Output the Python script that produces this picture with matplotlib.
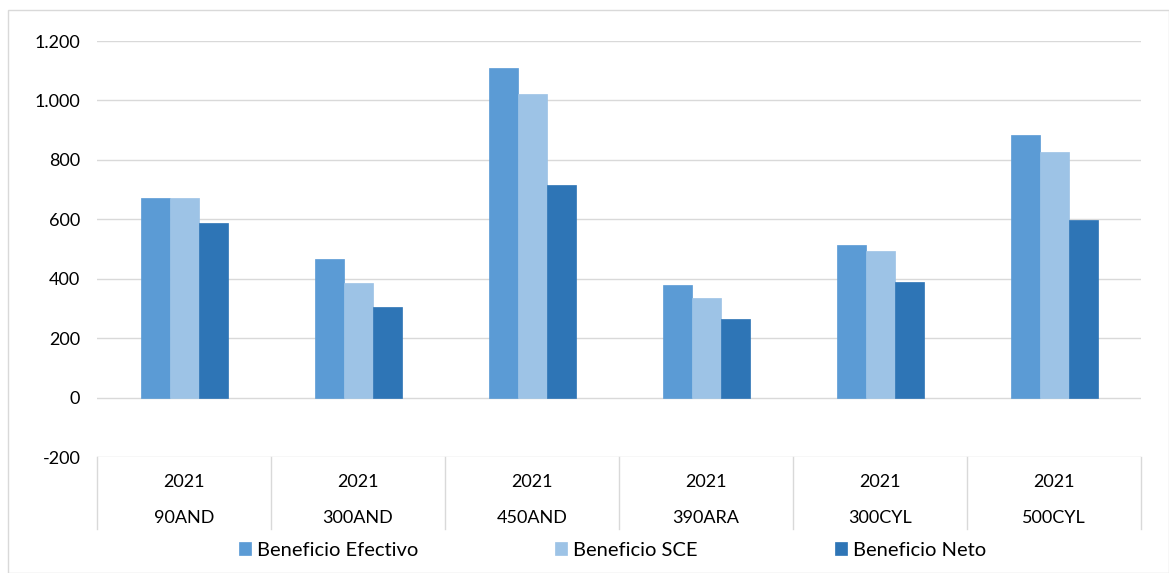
import matplotlib.pyplot as plt
from matplotlib.patches import Rectangle
from matplotlib.ticker import FuncFormatter
import numpy as np

plt.rcParams['font.family'] = ['Lato', 'DejaVu Sans']

categories = ["90AND", "300AND", "450AND", "390ARA", "300CYL", "500CYL"]
years = ["2021", "2021", "2021", "2021", "2021", "2021"]
series_names = ["Beneficio Efectivo", "Beneficio SCE", "Beneficio Neto"]
efectivo = [670, 466, 1110, 380, 512, 885]
sce = [670, 386, 1020, 334, 492, 825]
neto = [588, 304, 717, 264, 390, 597]
colors = ["#5B9BD5", "#9DC3E6", "#2E75B6"]
grid_c = "#D9D9D9"

fig = plt.figure(figsize=(11.69, 5.73), dpi=100)
W, H = 1169, 573
ax = fig.add_axes([97 / W, 1 - 457 / H, (1141 - 97) / W, (457 - 41) / H])

x = np.arange(len(categories))
bw = 29 / 174
for i, (vals, name) in enumerate(zip([efectivo, sce, neto], series_names)):
    ax.bar(x + (i - 1) * bw, vals, bw, color=colors[i], label=name,
           edgecolor=colors[i], linewidth=0.5, zorder=3)

ax.set_xlim(-0.5, len(categories) - 0.5)
ax.set_ylim(-200, 1200)
ax.set_yticks(np.arange(-200, 1201, 200))
ax.yaxis.set_major_formatter(FuncFormatter(lambda v, p: f"{int(v):,}".replace(",", ".")))
ax.tick_params(axis='y', length=0, pad=12, labelsize=13, labelcolor="#000000")
ax.set_xticks([])
for s in ax.spines.values():
    s.set_visible(False)
ax.grid(axis='y', color=grid_c, linewidth=1, zorder=0)
ax.set_axisbelow(True)

# category table under the axis
tr = ax.get_xaxis_transform()
y_bot = -(529 - 457) / (457 - 41)
for b in np.arange(-0.5, len(categories), 1.0):
    ax.plot([b, b], [0, y_bot], transform=tr, color=grid_c, lw=1, clip_on=False)
for xi, yr, cat in zip(x, years, categories):
    ax.text(xi, -(482 - 457) / 416, yr, transform=tr, ha='center', va='center', fontsize=13)
    ax.text(xi, -(518 - 457) / 416, cat, transform=tr, ha='center', va='center', fontsize=13)

fig.legend(loc='center', bbox_to_anchor=(0.524, 1 - 550 / H), ncol=3, frameon=False,
           fontsize=14.5, handlelength=0.6, handleheight=0.6, handletextpad=0.3,
           columnspacing=6.8)

fig.patches.append(Rectangle((8 / W, 0), 1 - 8 / W, 1 - 10 / H, transform=fig.transFigure,
                             fill=False, edgecolor=grid_c, lw=1))

fig.savefig("out.png", dpi=100)
